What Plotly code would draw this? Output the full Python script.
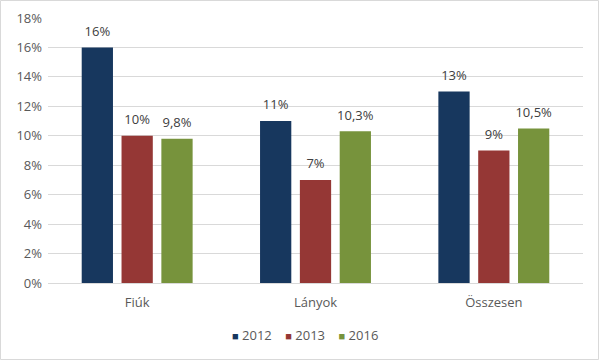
import plotly.graph_objects as go

categories = ["Fiúk", "Lányok", "Összesen"]
years = ["2012", "2013", "2016"]
values_2012 = [0.16, 0.11, 0.13]
values_2013 = [0.10, 0.07, 0.09]
values_2016 = [0.098, 0.103, 0.105]
labels_2012 = ["16%", "11%", "13%"]
labels_2013 = ["10%", "7%", "9%"]
labels_2016 = ["9,8%", "10,3%", "10,5%"]
colors = ["#17375E", "#953735", "#77933C"]
y_ticks = [0, 0.02, 0.04, 0.06, 0.08, 0.10, 0.12, 0.14, 0.16, 0.18]
y_tick_labels = ["0%", "2%", "4%", "6%", "8%", "10%", "12%", "14%", "16%", "18%"]

series = [values_2012, values_2013, values_2016]
texts = [labels_2012, labels_2013, labels_2016]

font_family = "Open Sans, Noto Sans, Liberation Sans, sans-serif"

fig = go.Figure()
for name, vals, col in zip(years, series, colors):
    fig.add_trace(go.Bar(
        x=categories, y=vals, name=name, marker_color=col,
        marker_line_width=0, offsetgroup=name, showlegend=False,
    ))
for name, vals, txt in zip(years, series, texts):
    fig.add_trace(go.Scatter(
        x=categories, y=vals, mode="markers+text", text=txt,
        textposition="top center", showlegend=False, hoverinfo="skip",
        marker=dict(size=12, opacity=0), offsetgroup=name, cliponaxis=False,
        textfont=dict(size=13, color="#404040", family=font_family),
    ))

W, H = 600, 361
ml, mr, mt, mb = 48, 17, 18, 78
pw, ph = W - ml - mr, H - mt - mb

# legend built as text from the series names and colours
legend_text = "&nbsp;&nbsp;&nbsp;&nbsp;".join(
    f"<span style='color:{c};font-size:11px'>■</span>&nbsp;{y}" for y, c in zip(years, colors)
)

fig.update_layout(
    width=W, height=H,
    margin=dict(l=ml, r=mr, t=mt, b=mb, autoexpand=False),
    paper_bgcolor="white", plot_bgcolor="white",
    barmode="group", bargap=0.33, bargroupgap=0.215,
    scattermode="group", scattergap=0.33,
    font=dict(family=font_family, size=13, color="#595959"),
    showlegend=False,
    xaxis=dict(showgrid=False, showline=True, linecolor="#d9d9d9", linewidth=1,
               ticks="", tickfont=dict(size=13, color="#595959"),
               ticklabelstandoff=7),
    yaxis=dict(range=[0, 0.18], tickvals=y_ticks, ticktext=y_tick_labels,
               showgrid=True, gridcolor="#d9d9d9", gridwidth=1, zeroline=False,
               showline=False, ticks="", ticklabelstandoff=5,
               tickfont=dict(size=13, color="#595959")),
    annotations=[dict(text=legend_text, xref="paper", yref="paper",
                      x=(305 - ml) / pw, y=-(335 - (mt + ph)) / ph,
                      xanchor="center", yanchor="middle", showarrow=False,
                      font=dict(size=13, color="#595959", family=font_family))],
    shapes=[dict(type="rect", xref="paper", yref="paper",
                 x0=(-ml + 0.5) / pw, x1=(pw + mr - 1.5) / pw,
                 y0=(-mb + 1.5) / ph, y1=(ph + mt - 0.5) / ph,
                 line=dict(color="#d9d9d9", width=1), fillcolor="rgba(0,0,0,0)",
                 layer="below")],
)

fig.write_html("out.html", config={"displayModeBar": False},
               post_script="document.body.style.margin='0';")
